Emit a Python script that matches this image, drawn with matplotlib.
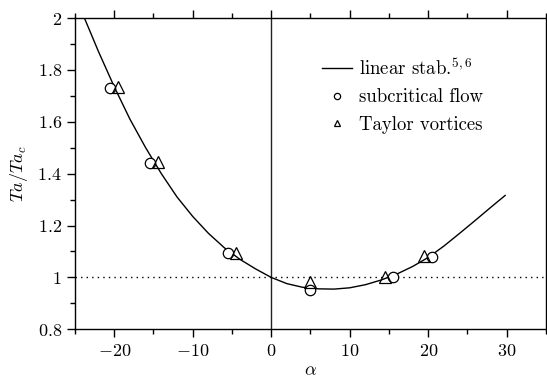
import matplotlib
matplotlib.use('Agg')
import matplotlib.pyplot as plt
from matplotlib.lines import Line2D
from matplotlib.ticker import MultipleLocator, FuncFormatter

plt.rcParams.update({
    'font.family': 'serif',
    'font.serif': ['cmr10'],
    'mathtext.fontset': 'cm',
    'axes.formatter.use_mathtext': True,
})

# linear stability curve
curve_x = [-23.8, -22, -20, -18, -16, -14, -12, -10, -8, -6, -4, -2, 0, 2, 4, 6, 8,
           10, 12, 14, 16, 18, 20, 22, 24, 26, 28, 29.8]
curve_y = [2.0, 1.87, 1.735, 1.61, 1.50, 1.40, 1.31, 1.235, 1.17, 1.115, 1.07, 1.033,
           1.0, 0.976, 0.962, 0.956, 0.955, 0.960, 0.972, 0.990, 1.013, 1.042, 1.077,
           1.121, 1.170, 1.220, 1.271, 1.316]

# subcritical flow (circles)
sub_x = [-20.5, -15.5, -5.5, 5.0, 15.5, 20.5]
sub_y = [1.73, 1.44, 1.093, 0.951, 1.0, 1.08]

# Taylor vortices (triangles)
tv_x = [-19.5, -14.4, -4.5, 5.0, 14.5, 19.4]
tv_y = [1.733, 1.444, 1.095, 0.984, 1.001, 1.084]

fig = plt.figure(figsize=(5.47, 3.79), dpi=100)
ax = fig.add_axes([0.1371, 0.1311, 0.861, 0.8214])
ax.set_xlim(-25, 35)
ax.set_ylim(0.8, 2)

ax.axvline(0, color='#222222', lw=1.0, zorder=1)
ax.axhline(1, color='k', ls=(0, (1, 3)), lw=1.0, zorder=1)
ax.plot(curve_x, curve_y, 'k-', lw=1.0, zorder=2)
ax.plot(sub_x, sub_y, 'o', mfc='white', mec='k', ms=7.5, mew=0.9, zorder=3)
ax.plot(tv_x, tv_y, '^', mfc='none', mec='k', ms=8, mew=0.9, zorder=4)

ax.xaxis.set_major_locator(MultipleLocator(10))
ax.xaxis.set_minor_locator(MultipleLocator(5))
ax.yaxis.set_major_locator(MultipleLocator(0.2))
ax.yaxis.set_minor_locator(MultipleLocator(0.1))
fmt = FuncFormatter(lambda v, p: f"${v:g}$")
ax.xaxis.set_major_formatter(fmt)
ax.yaxis.set_major_formatter(fmt)
ax.tick_params(which='both', direction='out', top=True, right=True, labelsize=13,
               width=1.0, colors='k')
ax.tick_params(which='major', length=6)
ax.tick_params(which='minor', length=3.5)
for s in ax.spines.values():
    s.set_linewidth(1.0)

ax.set_xlabel(r'$\alpha$', fontsize=13, labelpad=3)
ax.set_ylabel(r'$Ta/Ta_c$', fontsize=13, labelpad=5)

handles = [
    Line2D([], [], color='k', lw=1.0),
    Line2D([], [], ls='none', marker='o', mfc='none', mec='k', ms=4.5, mew=0.9),
    Line2D([], [], ls='none', marker='^', mfc='none', mec='k', ms=4.5, mew=0.9),
]
labels = [r'linear stab.$^{5,6}$', 'subcritical flow', 'Taylor vortices']
ax.legend(handles, labels, loc='upper left', bbox_to_anchor=(0.508, 0.897),
          frameon=False, fontsize=13.5, handlelength=1.6, handletextpad=0.37,
          labelspacing=0.52, borderaxespad=0)

fig.savefig('out.png', dpi=100)
